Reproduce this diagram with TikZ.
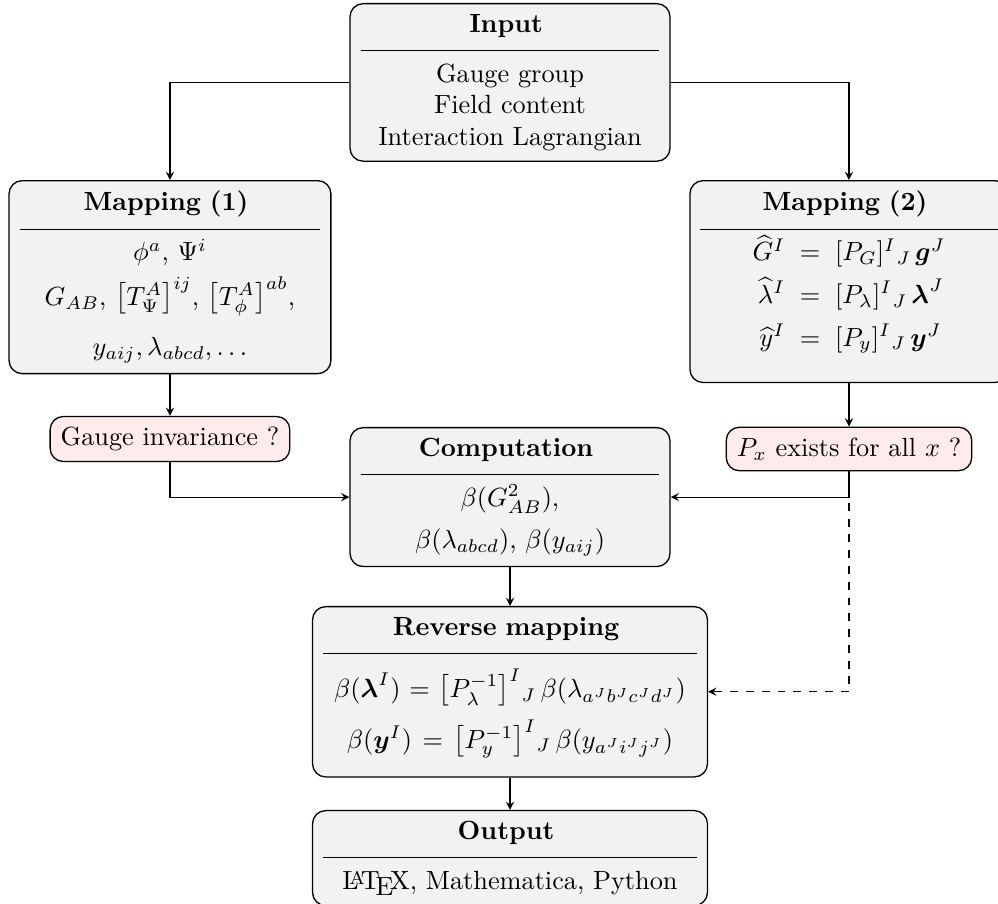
\documentclass[tikz,border=0pt]{standalone}
\usepackage{amsmath}
\usepackage{amssymb}

\begin{document}
\begin{tikzpicture}[>=stealth,
  laatikko/.style={draw,line width=0.5pt,rounded corners=5pt,fill=black!5,align=center,inner xsep=4pt,inner ysep=4pt,anchor=north},
  kysymys/.style={draw,line width=0.5pt,rounded corners=5pt,fill=red!8,inner sep=4pt}]
\newcommand\otsikko[2][-0.2pt]{\textbf{#2}\kern3pt\\[-4.8pt]\rule{\linewidth}{0.5pt}\\[#1]}
\useasboundingbox (0,0) rectangle (13.34,-12.083);
\node[laatikko,text width=113.7pt] (input) at (6.817,-0.040) {\otsikko{Input}Gauge group\\Field content\\Interaction Lagrangian};
\node[laatikko,text width=114.4pt] (map1) at (2.272,-2.406) {\otsikko{Mapping (1)}$\phi^a$, $\Psi^i$\\[3pt]
$G_{AB}$, $\big[T^A_\Psi\big]^{ij}$, $\big[T^A_\phi\big]^{ab}$,\\[7.2pt]
$y_{aij}, \lambda_{abcd}, \ldots$};
\node[laatikko,text width=113pt] (map2) at (11.348,-2.406) {\otsikko{Mapping (2)}\def\arraystretch{1.35}$\begin{array}[t]{r@{\;\;=\;\;}l}
\widehat{G}^I & [P_G]^I{}_J\,\boldsymbol{g}^J\\
\widehat{\lambda}^I & [P_\lambda]^I{}_J\,\boldsymbol{\lambda}^J\\
\widehat{y}^I & [P_y]^I{}_J\,\boldsymbol{y}^J\\[5pt]
\end{array}$};
\node[kysymys] (gauge) at (2.272,-5.868) {Gauge invariance ?};
\node[kysymys] (px) at (11.348,-6.001) {$P_x$ exists for all $x$ ?};
\node[laatikko,text width=113.7pt] (comp) at (6.817,-5.707) {\otsikko{Computation}$\beta(G^2_{AB})$,\\[4pt]
$\beta(\lambda_{abcd})$, $\beta(y_{aij})$};
\node[laatikko,text width=142.2pt] (rev) at (6.817,-8.100) {\otsikko[4.4pt]{Reverse mapping}$\beta(\boldsymbol{\lambda}^I) = \big[P_\lambda^{-1}\big]^I{}_J\,\beta(\lambda_{a^J b^J c^J d^J})$\\[4pt]
$\beta(\boldsymbol{y}^I) = \big[P_y^{-1}\big]^I{}_J\,\beta(y_{a^J i^J j^J})$\rule[-7pt]{0pt}{0pt}};
\node[laatikko,text width=142.2pt] (output) at (6.817,-10.826) {\otsikko{Output}\LaTeX, Mathematica, Python};
\path[draw,->] (input.west) -| (map1.north);
\path[draw,->] (input.east) -| (map2.north);
\path[draw,->] (map1.south) -- (gauge.north);
\path[draw,->] (map2.south) -- (px.north);
\path[draw,->] (gauge.south) |- (comp.west);
\path[draw,->] (px.south) |- (comp.east);
\path[draw,->,dashed] (px.south) |- (rev.east);
\path[draw,->] (comp.south) -- (rev.north);
\path[draw,->] (rev.south) -- (output.north);
\end{tikzpicture}
\end{document}
